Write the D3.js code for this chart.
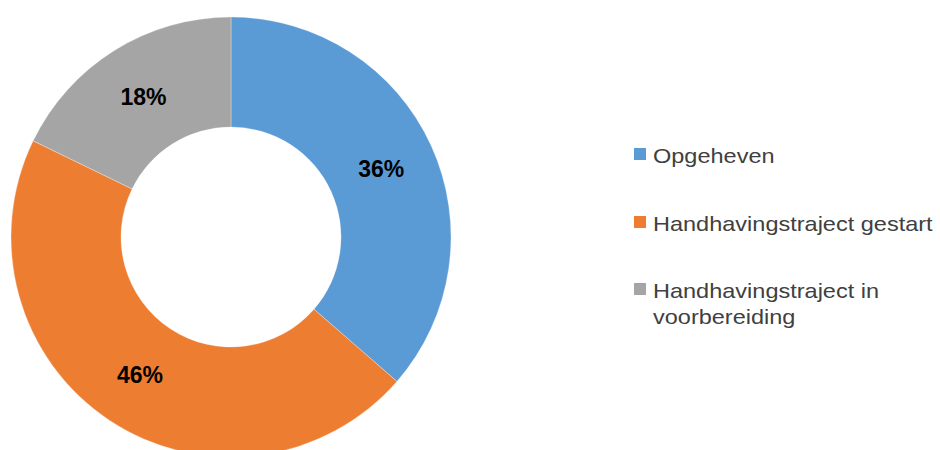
<!DOCTYPE html>
<html>
<head>
<meta charset="utf-8">
<script src="https://cdn.jsdelivr.net/npm/d3@7"></script>
<style>
  html, body { margin: 0; padding: 0; background: #fff; }
  svg { display: block; }
</style>
</head>
<body>
<svg id="chart" width="940" height="450"></svg>
<script>
const categories = ["Opgeheven", "Handhavingstraject gestart", "Handhavingstraject in voorbereiding"];
const legendLines = [["Opgeheven"], ["Handhavingstraject gestart"], ["Handhavingstraject in", "voorbereiding"]];
const values = [36.4, 45.8, 17.8];
const colors = ["#5B9BD5", "#ED7D31", "#A5A5A5"];

const svg = d3.select("#chart");
const cx = 231, cy = 237, outerR = 220, innerR = 110;

const total = d3.sum(values);
const pie = d3.pie().sort(null).value(d => d)(values);
const arc = d3.arc().innerRadius(innerR).outerRadius(outerR);
const labelArc = d3.arc().innerRadius((innerR + outerR) / 2).outerRadius((innerR + outerR) / 2);

const g = svg.append("g").attr("transform", `translate(${cx},${cy})`);
g.selectAll("path.slice").data(pie).join("path")
  .attr("class", "slice")
  .attr("d", arc)
  .attr("fill", (d, i) => colors[i])
  .attr("stroke", "#fff")
  .attr("stroke-opacity", 0.6)
  .attr("stroke-width", 0.5);

const fmt = d3.format(".0%");
g.selectAll("text.lbl").data(pie).join("text")
  .attr("class", "lbl")
  .attr("transform", d => `translate(${labelArc.centroid(d)})`)
  .attr("text-anchor", "middle")
  .attr("dy", "0.36em")
  .attr("font-family", "Liberation Sans, Arial, sans-serif")
  .attr("font-weight", "bold")
  .attr("font-size", 23)
  .attr("fill", "#000")
  .text(d => fmt(d.value / total));

// legend
const rowY = [163, 231, 298];
const lg = svg.append("g");
categories.forEach((c, i) => {
  lg.append("rect")
    .attr("x", 634).attr("y", rowY[i] - 15)
    .attr("width", 12).attr("height", 12)
    .attr("fill", colors[i]);
  const t = lg.append("text")
    .attr("font-family", "Liberation Sans, Arial, sans-serif")
    .attr("font-size", 21)
    .attr("fill", "#404040")
    .attr("transform", `translate(653,${rowY[i]}) scale(1.12,1)`);
  legendLines[i].forEach((line, j) => {
    t.append("tspan").attr("x", 0).attr("y", j * 26).text(line);
  });
});
</script>
</body>
</html>
